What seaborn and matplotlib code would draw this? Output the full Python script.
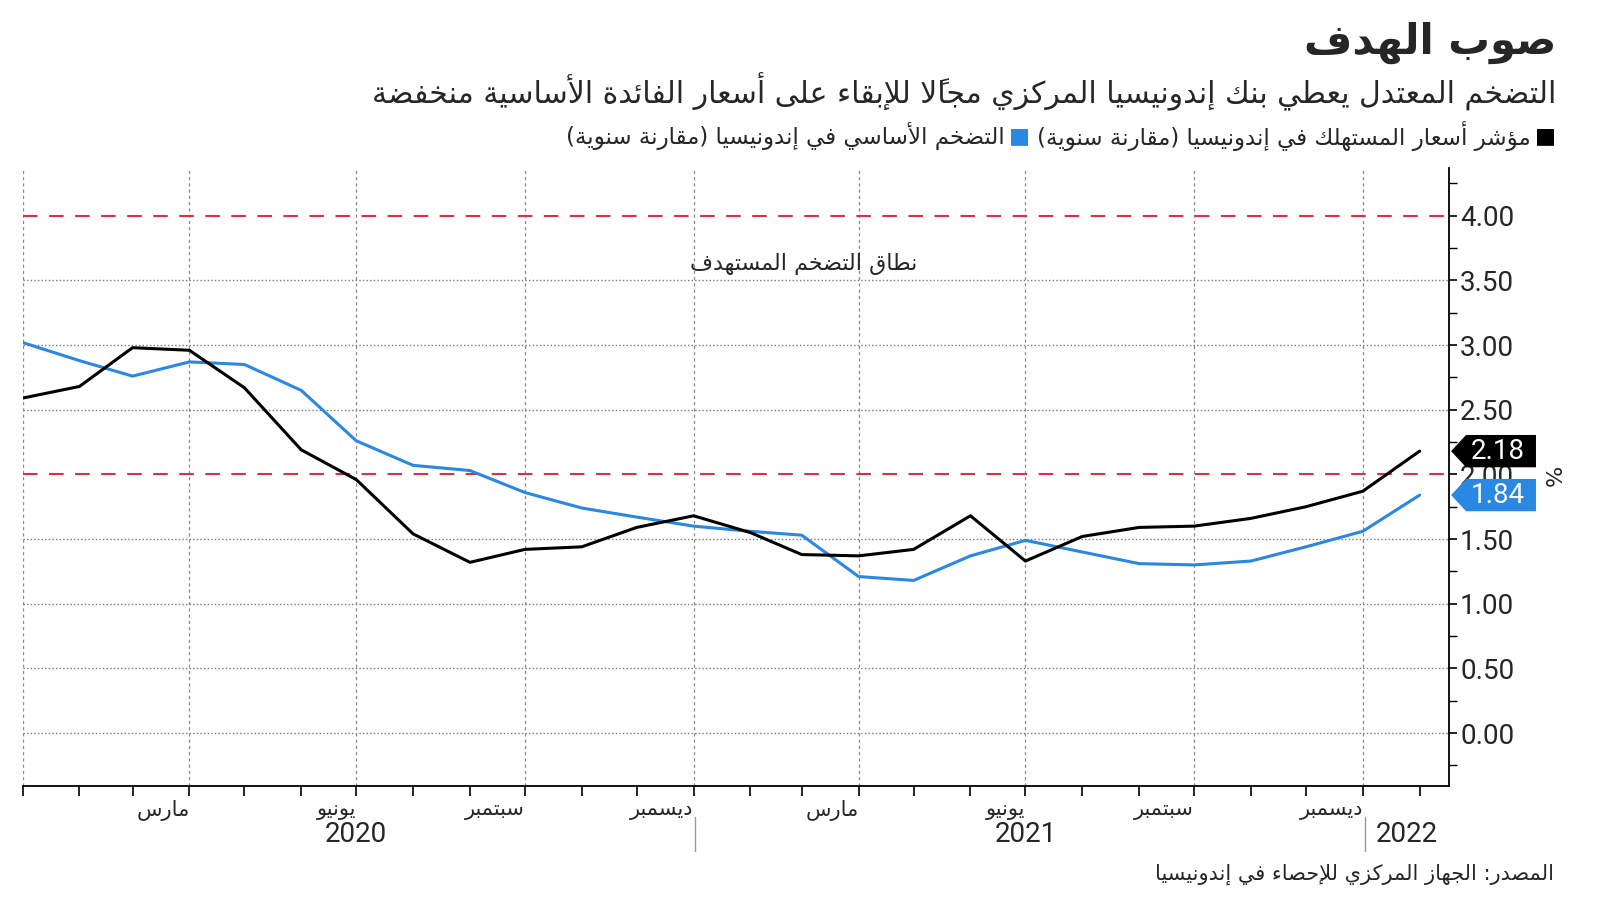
import numpy as np
import pandas as pd
import matplotlib
matplotlib.use("Agg")
import matplotlib.pyplot as plt
import matplotlib.transforms as mtransforms
from matplotlib.patches import Polygon
import seaborn as sns

# monthly readings, plotted at month end (Dec 2019 .. Jan 2022)
months = pd.date_range("2019-12-31", periods=26, freq=pd.offsets.MonthEnd())
cpi = [2.59, 2.68, 2.98, 2.96, 2.67, 2.19, 1.96, 1.54, 1.32, 1.42, 1.44, 1.59, 1.68,
       1.55, 1.38, 1.37, 1.42, 1.68, 1.33, 1.52, 1.59, 1.60, 1.66, 1.75, 1.87, 2.18]
core = [3.02, 2.88, 2.76, 2.87, 2.85, 2.65, 2.26, 2.07, 2.03, 1.86, 1.74, 1.67, 1.60,
        1.56, 1.53, 1.21, 1.18, 1.37, 1.49, 1.40, 1.31, 1.30, 1.33, 1.44, 1.56, 1.84]
target_band = [2.0, 4.0]
month_names = {3: "مارس", 6: "يونيو", 9: "سبتمبر", 12: "ديسمبر"}
years = ["2020", "2021", "2022"]
yticks = [0.0, 0.5, 1.0, 1.5, 2.0, 2.5, 3.0, 3.5, 4.0]

title = "صوب الهدف"
subtitle = "التضخم المعتدل يعطي بنك إندونيسيا المركزي مجالاً للإبقاء على أسعار الفائدة الأساسية منخفضة"
name_cpi = "مؤشر أسعار المستهلك في إندونيسيا (مقارنة سنوية)"
name_core = "التضخم الأساسي في إندونيسيا (مقارنة سنوية)"
band_label = "نطاق التضخم المستهدف"
source = "المصدر: الجهاز المركزي للإحصاء في إندونيسيا"

BLACK = "#000000"
BLUE = "#2a87e2"
RED = "#e0303f"

# --- tiny arabic shaper (matplotlib has no shaping / bidi) ---
RIGHT = {0x0622: 0xFE81, 0x0623: 0xFE83, 0x0624: 0xFE85, 0x0625: 0xFE87, 0x0627: 0xFE8D,
         0x0629: 0xFE93, 0x062F: 0xFEA9, 0x0630: 0xFEAB, 0x0631: 0xFEAD, 0x0632: 0xFEAF,
         0x0648: 0xFEED, 0x0649: 0xFEEF}
DUAL = {0x0626: 0xFE89, 0x0628: 0xFE8F, 0x062A: 0xFE95, 0x062B: 0xFE99, 0x062C: 0xFE9D,
        0x062D: 0xFEA1, 0x062E: 0xFEA5, 0x0633: 0xFEB1, 0x0634: 0xFEB5, 0x0635: 0xFEB9,
        0x0636: 0xFEBD, 0x0637: 0xFEC1, 0x0638: 0xFEC5, 0x0639: 0xFEC9, 0x063A: 0xFECD,
        0x0641: 0xFED1, 0x0642: 0xFED5, 0x0643: 0xFED9, 0x0644: 0xFEDD, 0x0645: 0xFEE1,
        0x0646: 0xFEE5, 0x0647: 0xFEE9, 0x064A: 0xFEF1}
NONJOIN = {0x0621: 0xFE80}
LAMALEF = {0x0622: 0xFEF5, 0x0623: 0xFEF7, 0x0625: 0xFEF9, 0x0627: 0xFEFB}
MIRROR = {"(": ")", ")": "("}


def ar(text):
    toks = []
    i = 0
    while i < len(text):
        c = text[i]
        o = ord(c)
        if 0x064B <= o <= 0x0652 and toks:
            toks[-1][1] += c
            i += 1
            continue
        if o == 0x0644 and i + 1 < len(text) and ord(text[i + 1]) in LAMALEF:
            toks.append([chr(LAMALEF[ord(text[i + 1])]), "", "L"])
            i += 2
            continue
        kind = "D" if o in DUAL else "R" if o in RIGHT else "N" if o in NONJOIN else "X"
        toks.append([c, "", kind])
        i += 1
    glyphs = []
    for j, (c, m, k) in enumerate(toks):
        prev = toks[j - 1][2] if j > 0 else "X"
        nxt = toks[j + 1][2] if j + 1 < len(toks) else "X"
        jp = prev == "D" and k in "DRL"
        jn = k == "D" and nxt in "DRL"
        o = ord(c)
        if k == "D":
            g = chr(DUAL[o] + (3 if jp and jn else 1 if jp else 2 if jn else 0))
        elif k == "R":
            g = chr(RIGHT[o] + (1 if jp else 0))
        elif k == "L":
            g = chr(o + (1 if jp else 0))
        elif k == "N":
            g = chr(NONJOIN[o])
        else:
            g = MIRROR.get(c, c)
        glyphs.append((g + m, c.isascii() and (c.isalnum() or c == ".")))
    # group ltr runs, then reverse
    groups = []
    for g, ltr in glyphs:
        if ltr and groups and groups[-1][1]:
            groups[-1][0].append(g)
        else:
            groups.append(([g], ltr))
    return "".join("".join(g) for g, _ in reversed(groups))


sns.set_style("white")
plt.rcParams["font.family"] = ["DejaVu Sans"]
NUM = ["Roboto", "DejaVu Sans"]

df = pd.DataFrame({"date": list(months) * 2,
                   "value": cpi + core,
                   "series": ["cpi"] * len(cpi) + ["core"] * len(core)})

fig = plt.figure(figsize=(16, 9.01), dpi=100)
ax = fig.add_axes([0.0141, 0.1276, 0.8915, 0.686])

sns.lineplot(data=df, x="date", y="value", hue="series",
             palette={"cpi": BLACK, "core": BLUE}, hue_order=["core", "cpi"],
             linewidth=2.2, legend=False, ax=ax, zorder=4)

right_edge = pd.Timestamp("2022-02-16")
ax.set_xlim(months[0], right_edge)
ax.set_ylim(-0.41, 4.37)

for y in target_band:
    ax.axhline(y, color=RED, lw=1.5, ls=(0, (7, 5.5)), zorder=3)

# grid (band lines replace the grid at 2 and 4)
ax.set_yticks(yticks)
ax.set_yticks(np.arange(-0.25, 4.3, 0.5), minor=True)
for y in yticks:
    if y not in target_band:
        ax.axhline(y, color="#777777", ls=(0, (1, 1.6)), lw=1.0, zorder=1)
ax.grid(False)
quarter_ends = [d for d in months if d.month in month_names or d == months[0]]
for d in quarter_ends:
    ax.axvline(d, color="#888888", ls=(0, (2.5, 2.5)), lw=0.9, zorder=1)

# axes style
for s in ["top", "left"]:
    ax.spines[s].set_visible(False)
for s in ["bottom", "right"]:
    ax.spines[s].set_color("black")
    ax.spines[s].set_linewidth(1.3)
ax.yaxis.tick_right()
ax.tick_params(axis="y", which="major", direction="out", length=6, width=1.2,
               color="black", pad=2, right=True, left=False)
ax.tick_params(axis="y", which="minor", direction="out", length=6, width=1.0,
               color="black", right=True, left=False)
ax.set_yticklabels([f"{v:.2f}" for v in yticks], fontfamily=NUM, fontsize=20)
ax.set_xlabel("")
ax.set_ylabel("")

ax.set_xticks(months)
ax.set_xticklabels([ar(month_names[d.month]) if d.month in month_names and d != months[0] else ""
                    for d in months], ha="right", fontsize=15)
ax.tick_params(axis="x", direction="out", length=7, width=1.2, color="black", pad=3,
               bottom=True)

# year labels and separators
xt = mtransforms.blended_transform_factory(ax.transData, ax.transAxes)
year_starts = [pd.Timestamp(f"{y}-01-01") for y in years]
year_pos = [pd.Timestamp("2020-06-30"), pd.Timestamp("2021-06-30"),
            year_starts[2] + (right_edge - year_starts[2]) / 2]
for y, xp in zip(years, year_pos):
    ax.text(xp, -0.079, y, transform=xt, ha="center", va="center", fontsize=20,
            fontfamily=NUM)
for ys in year_starts[1:]:
    ax.plot([ys, ys], [-0.05, -0.105], transform=xt, color="#999999", lw=1.0,
            clip_on=False)

# band label
ax.text(pd.Timestamp("2021-03-01"), 3.63, ar(band_label), ha="center", va="center",
        fontsize=16)

# last value boxes
yt = mtransforms.blended_transform_factory(ax.transAxes, ax.transData)
for vals, col in [(cpi, BLACK), (core, BLUE)]:
    v = vals[-1]
    h = 0.125
    poly = Polygon([(1.0015, v), (1.012, v + h), (1.061, v + h), (1.061, v - h), (1.012, v - h)],
                   closed=True, transform=yt, facecolor=col, edgecolor="none",
                   clip_on=False, zorder=6)
    ax.add_patch(poly)
    ax.text(1.034, v, f"{v:.2f}", transform=yt, color="white", ha="center", va="center",
            fontsize=20, fontfamily=NUM, zorder=7, clip_on=False)

fig.text(0.9725, 0.472, "%", rotation=90, ha="center", va="center", fontsize=16)

# titles
fig.text(0.9725, 0.952, ar(title), ha="right", va="center", fontsize=30, fontweight="bold")
fig.text(0.9725, 0.898, ar(subtitle), ha="right", va="center", fontsize=21.5)

# legend
fig.text(0.9725, 0.849, "■", ha="right", va="center", fontsize=16, color=BLACK)
fig.text(0.9565, 0.849, ar(name_cpi), ha="right", va="center", fontsize=16.5)
fig.text(0.644, 0.849, "■", ha="right", va="center", fontsize=16, color=BLUE)
fig.text(0.628, 0.849, ar(name_core), ha="right", va="center", fontsize=16.5)

fig.text(0.971, 0.030, ar(source), ha="right", va="center", fontsize=15)

fig.savefig("out.png", dpi=100)
